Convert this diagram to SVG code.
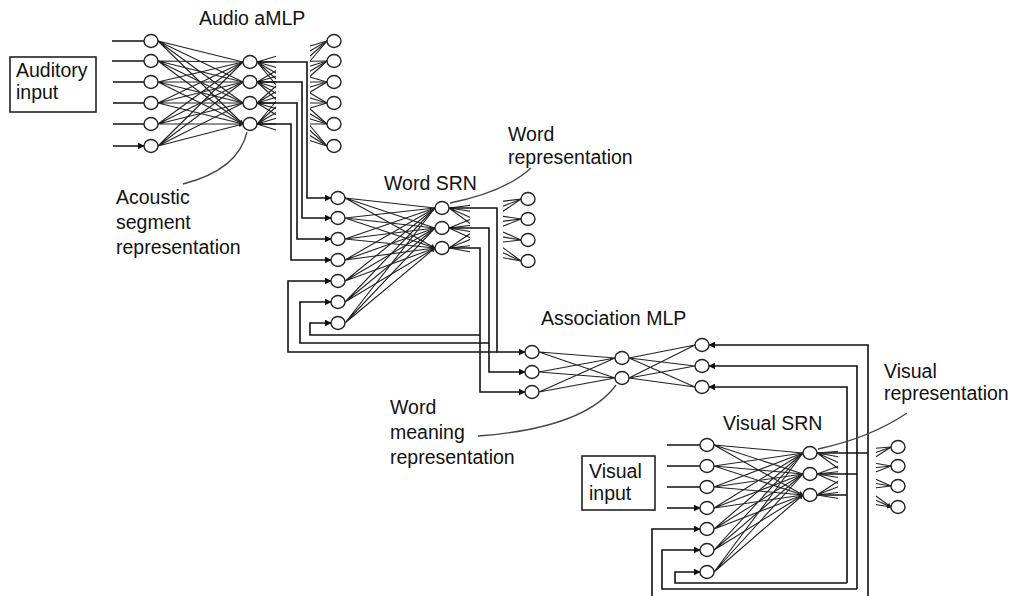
<svg xmlns="http://www.w3.org/2000/svg" width="1012" height="596" viewBox="0 0 1012 596">
<style>
.n{fill:#fff;stroke:#222;stroke-width:1.4}
.w{stroke:#222;stroke-width:1.1;fill:none}
.r{stroke:#111;stroke-width:1.6;fill:none}
.a{stroke:#111;stroke-width:1.6;fill:none;marker-end:url(#ah)}
.p{stroke:#444;stroke-width:1.3;fill:none}
.box{fill:#fff;stroke:#222;stroke-width:1.6}
.t{font-family:"Liberation Sans",Arial,sans-serif;font-size:19.5px;fill:#111}
</style>
<defs>
<marker id="ah" viewBox="0 0 10 10" refX="9" refY="5" markerWidth="7" markerHeight="7" markerUnits="userSpaceOnUse" orient="auto">
<path d="M0,0 L10,5 L0,10 z" fill="#111"/>
</marker>
<marker id="sh" viewBox="0 0 10 10" refX="9" refY="5" markerWidth="4.5" markerHeight="4.5" markerUnits="userSpaceOnUse" orient="auto">
<path d="M0,0 L10,5 L0,10 z" fill="#222"/>
</marker>
<clipPath id="c1"><rect x="256" y="0" width="20" height="200"/><rect x="310" y="0" width="20" height="200"/></clipPath>
<clipPath id="c2"><rect x="448" y="150" width="22" height="150"/><rect x="503" y="150" width="20" height="150"/></clipPath>
<clipPath id="c3"><rect x="816" y="400" width="22" height="150"/><rect x="876" y="400" width="17" height="150"/></clipPath>
</defs>
<rect width="1012" height="596" fill="#fff"/>

<g id="labels">
<rect class="box" x="10" y="57" width="86" height="55"/>
<text class="t" x="16" y="77">Auditory</text>
<text class="t" x="16" y="99">input</text>
<text class="t" x="199" y="25">Audio aMLP</text>
<text class="t" x="116" y="204">Acoustic</text>
<text class="t" x="116" y="229">segment</text>
<text class="t" x="116" y="254">representation</text>
<text class="t" x="384" y="190">Word SRN</text>
<text class="t" x="508" y="141">Word</text>
<text class="t" x="508" y="164">representation</text>
<text class="t" x="541" y="325">Association MLP</text>
<text class="t" x="390" y="414">Word</text>
<text class="t" x="390" y="439">meaning</text>
<text class="t" x="390" y="464">representation</text>
<text class="t" x="884" y="378">Visual</text>
<text class="t" x="884" y="400">representation</text>
<text class="t" x="723" y="430">Visual SRN</text>
<rect class="box" x="582" y="456" width="73" height="54"/>
<text class="t" x="589" y="478">Visual</text>
<text class="t" x="589" y="500">input</text>
</g>

<g id="connectors">
<path class="a" d="M112,41H144M112,61H144M113,82H144M113,103H144M113,124H144M113,146H144"/>
<g class="w" marker-end="url(#sh)">
<path d="M158,41L243,62M158,41L243,82M158,41L243,103M158,41L243,124"/>
<path d="M158,61L243,62M158,61L243,82M158,61L243,103M158,61L243,124"/>
<path d="M158,82L243,62M158,82L243,82M158,82L243,103M158,82L243,124"/>
<path d="M158,103L243,62M158,103L243,82M158,103L243,103M158,103L243,124"/>
<path d="M158,124L243,62M158,124L243,82M158,124L243,103M158,124L243,124"/>
<path d="M158,146L243,62M158,146L243,82M158,146L243,103M158,146L243,124"/>
</g>
<g class="w" clip-path="url(#c1)">
<path d="M257,62L327,41M257,62L327,61M257,62L327,82M257,62L327,103M257,62L327,124M257,62L327,146"/>
<path d="M257,82L327,41M257,82L327,61M257,82L327,82M257,82L327,103M257,82L327,124M257,82L327,146"/>
<path d="M257,103L327,41M257,103L327,61M257,103L327,82M257,103L327,103M257,103L327,124M257,103L327,146"/>
<path d="M257,124L327,41M257,124L327,61M257,124L327,82M257,124L327,103M257,124L327,124M257,124L327,146"/>
</g>
<path class="a" d="M257,62H307V198H331"/>
<path class="a" d="M257,82H302V218H331"/>
<path class="a" d="M257,103H297V239H331"/>
<path class="a" d="M257,124H291V260H331"/>
<g class="w" marker-end="url(#sh)">
<path d="M345,198L435,208M345,198L435,228M345,198L435,248"/>
<path d="M345,218L435,208M345,218L435,228M345,218L435,248"/>
<path d="M345,239L435,208M345,239L435,228M345,239L435,248"/>
<path d="M345,260L435,208M345,260L435,228M345,260L435,248"/>
<path d="M345,281L435,208M345,281L435,228M345,281L435,248"/>
<path d="M345,302L435,208M345,302L435,228M345,302L435,248"/>
<path d="M345,323L435,208M345,323L435,228M345,323L435,248"/>
</g>
<g class="w" clip-path="url(#c2)">
<path d="M449,208L521,199M449,208L521,219M449,208L521,240M449,208L521,261"/>
<path d="M449,228L521,199M449,228L521,219M449,228L521,240M449,228L521,261"/>
<path d="M449,248L521,199M449,248L521,219M449,248L521,240M449,248L521,261"/>
</g>
<path class="a" d="M449,208H497V352H525"/>
<path class="a" d="M497,352H288V281H331"/>
<path class="a" d="M449,228H489V372H525"/>
<path class="a" d="M489,343H300V302H331"/>
<path class="a" d="M449,248H480V392H525"/>
<path class="a" d="M480,335H310V323H331"/>
<g class="w">
<path d="M539,352L615,358M539,352L615,378M539,372L615,358M539,372L615,378M539,392L615,358M539,392L615,378"/>
<path d="M629,358L695,345M629,358L695,366M629,358L695,387M629,378L695,345M629,378L695,366M629,378L695,387"/>
</g>
<path class="a" d="M868,596V345H709"/>
<path class="a" d="M857,589V366H709"/>
<path class="a" d="M847,583V387H709"/>
<path class="r" d="M817,453H868M817,474H857M817,495H847"/>
<path class="a" d="M857,589H662V550H700"/>
<path class="a" d="M847,583H675V572H700"/>
<path class="a" d="M652,596V529H700"/>
<path class="a" d="M667,445H700M667,466H700M667,487H700M667,508H700"/>
<g class="w" marker-end="url(#sh)">
<path d="M714,445L803,453M714,445L803,474M714,445L803,495"/>
<path d="M714,466L803,453M714,466L803,474M714,466L803,495"/>
<path d="M714,487L803,453M714,487L803,474M714,487L803,495"/>
<path d="M714,508L803,453M714,508L803,474M714,508L803,495"/>
<path d="M714,529L803,453M714,529L803,474M714,529L803,495"/>
<path d="M714,550L803,453M714,550L803,474M714,550L803,495"/>
<path d="M714,572L803,453M714,572L803,474M714,572L803,495"/>
</g>
<g class="w" clip-path="url(#c3)" marker-end="url(#sh)">
<path d="M817,453L891,447M817,453L891,466M817,453L891,486M817,453L891,507"/>
<path d="M817,474L891,447M817,474L891,466M817,474L891,486M817,474L891,507"/>
<path d="M817,495L891,447M817,495L891,466M817,495L891,486M817,495L891,507"/>
</g>
<path class="p" d="M247,132Q238,170 183,184"/>
<path class="p" d="M531,168Q505,192 450,203"/>
<path class="p" d="M478,436Q585,428 616,385"/>
<path class="p" d="M907,413Q870,438 818,449"/>
</g>

<g id="audio-in-1"><ellipse class="n" cx="151" cy="41" rx="7" ry="6.5"/></g>
<g id="audio-in-2"><ellipse class="n" cx="151" cy="61" rx="7" ry="6.5"/></g>
<g id="audio-in-3"><ellipse class="n" cx="151" cy="82" rx="7" ry="6.5"/></g>
<g id="audio-in-4"><ellipse class="n" cx="151" cy="103" rx="7" ry="6.5"/></g>
<g id="audio-in-5"><ellipse class="n" cx="151" cy="124" rx="7" ry="6.5"/></g>
<g id="audio-in-6"><ellipse class="n" cx="151" cy="146" rx="7" ry="6.5"/></g>
<g id="audio-hid-1"><ellipse class="n" cx="250" cy="62" rx="7" ry="6.5"/></g>
<g id="audio-hid-2"><ellipse class="n" cx="250" cy="82" rx="7" ry="6.5"/></g>
<g id="audio-hid-3"><ellipse class="n" cx="250" cy="103" rx="7" ry="6.5"/></g>
<g id="audio-hid-4"><ellipse class="n" cx="250" cy="124" rx="7" ry="6.5"/></g>
<g id="audio-out-1"><ellipse class="n" cx="334" cy="41" rx="7" ry="6.5"/></g>
<g id="audio-out-2"><ellipse class="n" cx="334" cy="61" rx="7" ry="6.5"/></g>
<g id="audio-out-3"><ellipse class="n" cx="334" cy="82" rx="7" ry="6.5"/></g>
<g id="audio-out-4"><ellipse class="n" cx="334" cy="103" rx="7" ry="6.5"/></g>
<g id="audio-out-5"><ellipse class="n" cx="334" cy="124" rx="7" ry="6.5"/></g>
<g id="audio-out-6"><ellipse class="n" cx="334" cy="146" rx="7" ry="6.5"/></g>

<g id="word-in-1"><ellipse class="n" cx="338" cy="198" rx="7" ry="6.5"/></g>
<g id="word-in-2"><ellipse class="n" cx="338" cy="218" rx="7" ry="6.5"/></g>
<g id="word-in-3"><ellipse class="n" cx="338" cy="239" rx="7" ry="6.5"/></g>
<g id="word-in-4"><ellipse class="n" cx="338" cy="260" rx="7" ry="6.5"/></g>
<g id="word-ctx-1"><ellipse class="n" cx="338" cy="281" rx="7" ry="6.5"/></g>
<g id="word-ctx-2"><ellipse class="n" cx="338" cy="302" rx="7" ry="6.5"/></g>
<g id="word-ctx-3"><ellipse class="n" cx="338" cy="323" rx="7" ry="6.5"/></g>
<g id="word-hid-1"><ellipse class="n" cx="442" cy="208" rx="7" ry="6.5"/></g>
<g id="word-hid-2"><ellipse class="n" cx="442" cy="228" rx="7" ry="6.5"/></g>
<g id="word-hid-3"><ellipse class="n" cx="442" cy="248" rx="7" ry="6.5"/></g>
<g id="word-out-1"><ellipse class="n" cx="528" cy="199" rx="7" ry="6.5"/></g>
<g id="word-out-2"><ellipse class="n" cx="528" cy="219" rx="7" ry="6.5"/></g>
<g id="word-out-3"><ellipse class="n" cx="528" cy="240" rx="7" ry="6.5"/></g>
<g id="word-out-4"><ellipse class="n" cx="528" cy="261" rx="7" ry="6.5"/></g>

<g id="assoc-in-1"><ellipse class="n" cx="532" cy="352" rx="7" ry="6.5"/></g>
<g id="assoc-in-2"><ellipse class="n" cx="532" cy="372" rx="7" ry="6.5"/></g>
<g id="assoc-in-3"><ellipse class="n" cx="532" cy="392" rx="7" ry="6.5"/></g>
<g id="assoc-hid-1"><ellipse class="n" cx="622" cy="358" rx="7" ry="6.5"/></g>
<g id="assoc-hid-2"><ellipse class="n" cx="622" cy="378" rx="7" ry="6.5"/></g>
<g id="assoc-out-1"><ellipse class="n" cx="702" cy="345" rx="7" ry="6.5"/></g>
<g id="assoc-out-2"><ellipse class="n" cx="702" cy="366" rx="7" ry="6.5"/></g>
<g id="assoc-out-3"><ellipse class="n" cx="702" cy="387" rx="7" ry="6.5"/></g>

<g id="vis-in-1"><ellipse class="n" cx="707" cy="445" rx="7" ry="6.5"/></g>
<g id="vis-in-2"><ellipse class="n" cx="707" cy="466" rx="7" ry="6.5"/></g>
<g id="vis-in-3"><ellipse class="n" cx="707" cy="487" rx="7" ry="6.5"/></g>
<g id="vis-in-4"><ellipse class="n" cx="707" cy="508" rx="7" ry="6.5"/></g>
<g id="vis-ctx-1"><ellipse class="n" cx="707" cy="529" rx="7" ry="6.5"/></g>
<g id="vis-ctx-2"><ellipse class="n" cx="707" cy="550" rx="7" ry="6.5"/></g>
<g id="vis-ctx-3"><ellipse class="n" cx="707" cy="572" rx="7" ry="6.5"/></g>
<g id="vis-hid-1"><ellipse class="n" cx="810" cy="453" rx="7" ry="6.5"/></g>
<g id="vis-hid-2"><ellipse class="n" cx="810" cy="474" rx="7" ry="6.5"/></g>
<g id="vis-hid-3"><ellipse class="n" cx="810" cy="495" rx="7" ry="6.5"/></g>
<g id="vis-out-1"><ellipse class="n" cx="898" cy="447" rx="7" ry="6.5"/></g>
<g id="vis-out-2"><ellipse class="n" cx="898" cy="466" rx="7" ry="6.5"/></g>
<g id="vis-out-3"><ellipse class="n" cx="898" cy="486" rx="7" ry="6.5"/></g>
<g id="vis-out-4"><ellipse class="n" cx="898" cy="507" rx="7" ry="6.5"/></g>
</svg>
